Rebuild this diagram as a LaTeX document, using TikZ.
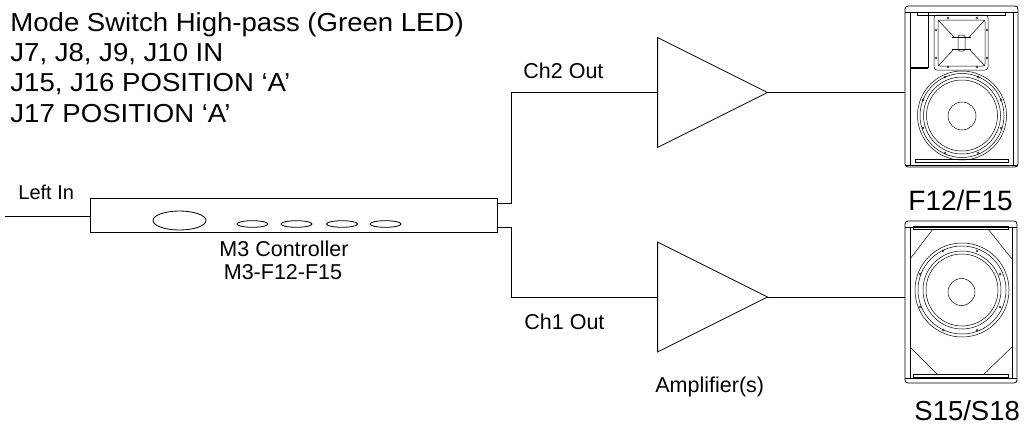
\documentclass[tikz,border=0pt]{standalone}
\usepackage{fontspec}
\setmainfont{Liberation Sans}
\newfontfamily\widefont[FakeStretch=1.06]{Liberation Sans}
\usetikzlibrary{calc}
\begin{document}
\begin{tikzpicture}[x=1pt,y=-1pt, line width=0.8pt,
  lbl/.style={inner sep=0pt, anchor=base west, font=\fontsize{21.5}{24}\selectfont},
  clbl/.style={inner sep=0pt, anchor=base, font=\fontsize{21.5}{24}\selectfont},
  ttl/.style={inner sep=0pt, anchor=base west, font=\widefont\fontsize{26}{28}\selectfont},
  big/.style={inner sep=0pt, anchor=base west, font=\fontsize{28}{30}\selectfont},
  spk/.style={draw, rounded corners=3pt, inner sep=0pt},
  ampbox/.style={minimum width=109pt, minimum height=109pt, inner sep=0pt},
  ctrlbox/.style={draw, minimum width=407pt, minimum height=34pt, inner sep=0pt},
  fine/.style={line width=0.5pt},
  screw/.style={line width=0.4pt}]
\useasboundingbox (0,0) rectangle (1025,431);

% title
\node[ttl] (t1) at (10,31) {Mode Switch High-pass (Green LED)};
\node[ttl] (t2) at (10,61.5) {J7, J8, J9, J10 IN};
\node[ttl] (t3) at (10,91.5) {J15, J16 POSITION ‘A’};
\node[ttl] (t4) at (10,122) {J17 POSITION ‘A’};

% controller
\node[ctrlbox] (ctrl) at (293.5,215) {};
\draw (179.5,220.5) ellipse [x radius=26.5pt, y radius=9.5pt];
\foreach \cx in {252.5,296.5,342,385.5}
  \draw (\cx,224) ellipse [x radius=15.5pt, y radius=3.3pt];
\coordinate (leftin) at (5,216);
\draw (leftin) -- (leftin -| ctrl.west);
\node[inner sep=0pt, anchor=base west, font=\fontsize{20}{22}\selectfont] (leftinlbl) at (18,199) {Left In};
\node[clbl] (m3a) at (284,256) {M3 Controller};
\node[clbl] (m3b) at (283,279) {M3-F12-F15};

% amplifiers
\node[ampbox] (amp2) at (712.5,92.5) {};
\node[ampbox] (amp1) at (712.5,297) {};
\draw (amp2.north west) -- (amp2.east) -- (amp2.south west) -- cycle;
\draw (amp1.north west) -- (amp1.east) -- (amp1.south west) -- cycle;
\node[lbl] (ch2) at (523,78) {Ch2 Out};
\node[lbl] (ch1) at (524,329) {Ch1 Out};
\node[lbl] (ampl) at (655,392) {Amplifier(s)};

% speakers
\node[spk, minimum width=113pt, minimum height=161pt] (spk1) at (961.5,86.5) {};
\node[spk, minimum width=112pt, minimum height=162pt] (spk2) at (961,302) {};
\node[big] (f12) at (908,210) {F12/F15};
\node[big, font=\fontsize{27.5}{30}\selectfont] (s15) at (914,420) {S15/S18};

% connectors
\draw ([yshift=12pt]ctrl.east) -- ++(14,0) |- (amp2.west);
\draw ([yshift=-12pt]ctrl.east) -- ++(14,0) |- (amp1.west);
\draw (amp2.east) -- (amp2.east -| spk1.west);
\draw (amp1.east) -- (amp1.east -| spk2.west);

% speaker 1 details (F12/F15)
\begin{scope}[fine]
  \draw (905,12) -- (1018,12);
  \draw (905,165) -- (1018,165);
  \draw (910,12) -- (910,165);
  \draw (1013,12) -- (1013,165);
  \draw (917,12) rectangle (1005,15.5);
  \draw (915,159) rectangle (1008,162);
  \draw (928,12) -- (928,68);
  \draw[line width=1.2pt] (910,68) -- (928,68);
  % horn
  \draw[rounded corners=3pt] (934,15) rectangle (988,70);
  \draw[rounded corners=2pt] (938,20) rectangle (985,66);
  \draw (938,20) -- (954,37);
  \draw (985,20) -- (969,37);
  \draw (938,66) -- (954,49);
  \draw (985,66) -- (969,49);
  \draw (952,37) -- (971,37);
  \draw (952,49) -- (971,49);
  \draw[rounded corners=1.5pt] (958,35) rectangle (965,51);
  % woofer
  \foreach \r in {44.5,42,38.5,35.5} \draw (962,115.5) circle [radius=\r pt];
  \draw (962,116) circle [radius=14pt];
\end{scope}
\begin{scope}[screw]
  \foreach \p in {(948,18),(977,18),(936,30),(987,30),(936,58),(987,58),(948,67),(977,67),
                  (945,77),(978,77),(923,100),(1001,100),(923,128),(1001,128),(945,153),(978,153)}
    \draw \p circle [radius=1.2pt];
\end{scope}

% speaker 2 details (S15/S18)
\begin{scope}[fine]
  \draw (905,227) -- (1017,227);
  \draw (905,378) -- (1017,378);
  \draw (910,227) -- (910,378);
  \draw (1012,227) -- (1012,378);
  \draw (913,226) rectangle (1008,229);
  \draw (913,374) rectangle (1008,377);
  \draw (910,259) -- (933,229);
  \draw (988,229) -- (1012,259);
  \draw (910,347) -- (938,375);
  \draw (983,375) -- (1012,347);
  \foreach \r in {47,44,39,36} \draw (962,290) circle [radius=\r pt];
  \draw (961.5,292) circle [radius=13.5pt];
\end{scope}
\begin{scope}[screw]
  \foreach \p in {(943,251),(977,251),(920,274),(1000,274),(920,307),(1000,307),(943,330),(977,330)}
    \draw \p circle [radius=1.2pt];
\end{scope}
\end{tikzpicture}
\end{document}
